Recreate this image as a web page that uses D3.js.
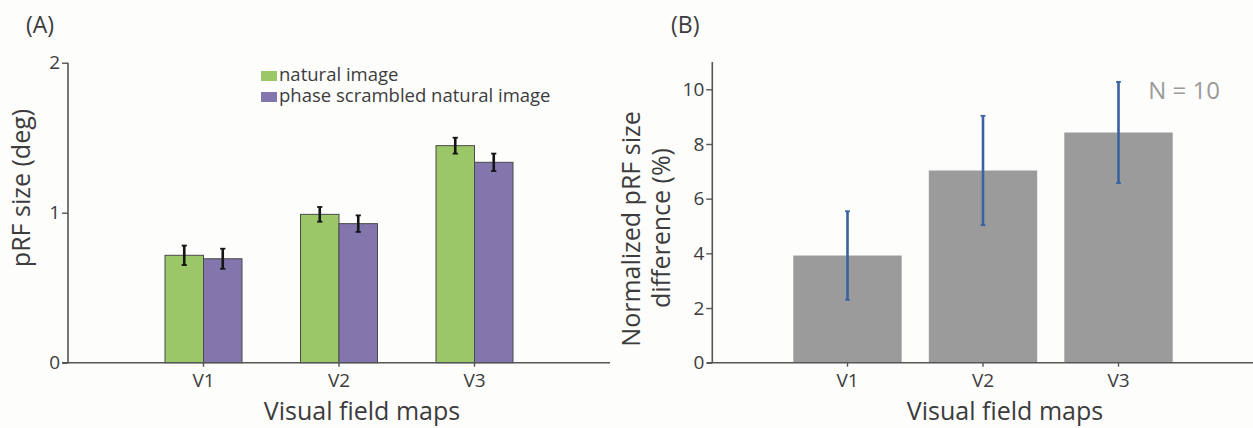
<!DOCTYPE html>
<html>
<head>
<meta charset="utf-8">
<script src="https://cdn.jsdelivr.net/npm/d3@7/dist/d3.min.js"></script>
<style>
  html, body { margin: 0; padding: 0; background: #fdfdfc; }
  svg { display: block; }
  text { font-family: "Open Sans", "Noto Sans", sans-serif; fill: #3c3c3c; }
</style>
</head>
<body>
<svg id="chart" width="1253" height="428"></svg>
<script>
// Visual field maps on the x axis of both panels
const categories = ["V1", "V2", "V3"];

// Panel A: pRF size (deg) per stimulus, with SEM
const seriesNames = ["natural image", "phase scrambled natural image"];
const naturalSize = [0.716, 0.989, 1.447];
const naturalErr = [0.065, 0.049, 0.053];
const scrambledSize = [0.693, 0.927, 1.336];
const scrambledErr = [0.067, 0.055, 0.058];
const sizeTicks = [0, 1, 2];

// Panel B: normalized pRF size difference (%), with SEM
const diffValues = [3.92, 7.03, 8.42];
const diffErr = [1.62, 2.0, 1.85];
const diffTicks = [0, 2, 4, 6, 8, 10];
const sampleLabel = "N = 10";

const svg = d3.select("#chart");
const axisColor = "#555";
const textColor = "#3c3c3c";

function styleAxis(g) {
  g.select(".domain").remove();
  g.selectAll(".tick line").attr("stroke", axisColor).attr("stroke-width", 1.4);
  g.selectAll(".tick text").attr("fill", textColor).style("font-size", "19px");
}

// ---------- Panel A ----------
{
  const x = d3.scaleBand().domain(categories).range([135.75, 542.25]).padding(0);
  const y = d3.scaleLinear().domain([0, 2]).range([362.7, 62.7]);
  const sub = d3.scaleBand().domain(seriesNames).range([-38.5, 38.5]);
  const colors = { "natural image": "#9bc769", "phase scrambled natural image": "#8276ad" };
  const rows = categories.map((c, i) => ({
    cat: c,
    bars: [
      { name: seriesNames[0], v: naturalSize[i], e: naturalErr[i] },
      { name: seriesNames[1], v: scrambledSize[i], e: scrambledErr[i] }
    ]
  }));

  const g = svg.append("g");

  const groups = g.selectAll(".grp").data(rows).join("g")
    .attr("transform", d => `translate(${x(d.cat) + x.bandwidth() / 2},0)`);

  groups.selectAll("rect").data(d => d.bars).join("rect")
    .attr("x", d => sub(d.name))
    .attr("width", sub.bandwidth())
    .attr("y", d => y(d.v))
    .attr("height", d => y(0) - y(d.v))
    .attr("fill", d => colors[d.name])
    .attr("stroke", "#4a4a4a")
    .attr("stroke-width", 1);

  // error bars
  const eb = groups.selectAll(".eb").data(d => d.bars).join("g")
    .attr("transform", d => `translate(${sub(d.name) + sub.bandwidth() / 2},0)`);
  eb.append("line")
    .attr("y1", d => y(d.v + d.e)).attr("y2", d => y(d.v - d.e))
    .attr("stroke", "#151515").attr("stroke-width", 2.6);
  eb.selectAll(".cap").data(d => [d.v + d.e, d.v - d.e]).join("line")
    .attr("x1", -2.6).attr("x2", 2.6)
    .attr("y1", d => y(d)).attr("y2", d => y(d))
    .attr("stroke", "#151515").attr("stroke-width", 1.8);

  // axes
  g.append("line").attr("x1", 62).attr("x2", 610).attr("y1", y(0)).attr("y2", y(0))
    .attr("stroke", axisColor).attr("stroke-width", 1.6);
  g.append("line").attr("x1", 68).attr("x2", 68).attr("y1", y(2)).attr("y2", y(0))
    .attr("stroke", axisColor).attr("stroke-width", 1.6);

  g.append("g").attr("transform", `translate(0,${y(0)})`)
    .call(d3.axisBottom(x).tickSize(4).tickPadding(7))
    .call(styleAxis);
  g.append("g").attr("transform", "translate(68,0)")
    .call(d3.axisLeft(y).tickValues(sizeTicks).tickFormat(d3.format("d")).tickSize(6).tickPadding(2))
    .call(styleAxis);

  // legend
  const leg = g.append("g");
  seriesNames.forEach((n, i) => {
    leg.append("rect").attr("x", 261).attr("y", 71 + i * 21).attr("width", 16).attr("height", 10)
      .attr("fill", colors[n]);
    leg.append("text").attr("x", 279).attr("y", 81 + i * 21)
      .style("font-size", "18.5px").attr("fill", textColor).text(n);
  });

  // titles
  g.append("text").attr("x", 362).attr("y", 420).attr("text-anchor", "middle")
    .style("font-size", "25px").text("Visual field maps");
  g.append("text").attr("transform", "translate(30,188) rotate(-90)").attr("text-anchor", "middle")
    .style("font-size", "25px").text("pRF size (deg)");
  g.append("text").attr("x", 26).attr("y", 33).style("font-size", "23px").text("(A)");
}

// ---------- Panel B ----------
{
  const x = d3.scaleBand().domain(categories).range([779.75, 1186.25]).paddingInner(0.2).paddingOuter(0.1);
  const y = d3.scaleLinear().domain([0, 11]).range([362.7, 61.96]);
  const rows = categories.map((c, i) => ({ cat: c, v: diffValues[i], e: diffErr[i] }));

  const g = svg.append("g");

  g.selectAll("rect").data(rows).join("rect")
    .attr("x", d => x(d.cat))
    .attr("width", x.bandwidth())
    .attr("y", d => y(d.v))
    .attr("height", d => y(0) - y(d.v))
    .attr("fill", "#9b9b9b");

  const eb = g.selectAll(".eb").data(rows).join("g")
    .attr("transform", d => `translate(${x(d.cat) + x.bandwidth() / 2},0)`);
  eb.append("line")
    .attr("y1", d => y(d.v + d.e)).attr("y2", d => y(d.v - d.e))
    .attr("stroke", "#3a62a3").attr("stroke-width", 2.6);
  eb.selectAll(".cap").data(d => [d.v + d.e, d.v - d.e]).join("line")
    .attr("x1", -2.4).attr("x2", 2.4)
    .attr("y1", d => y(d)).attr("y2", d => y(d))
    .attr("stroke", "#3a62a3").attr("stroke-width", 1.8);

  g.append("line").attr("x1", 707).attr("x2", 1253).attr("y1", y(0)).attr("y2", y(0))
    .attr("stroke", axisColor).attr("stroke-width", 1.6);
  g.append("line").attr("x1", 712.3).attr("x2", 712.3).attr("y1", y(11)).attr("y2", y(0))
    .attr("stroke", axisColor).attr("stroke-width", 1.6);

  g.append("g").attr("transform", `translate(0,${y(0)})`)
    .call(d3.axisBottom(x).tickSize(4).tickPadding(7))
    .call(styleAxis);
  g.append("g").attr("transform", "translate(712.3,0)")
    .call(d3.axisLeft(y).tickValues(diffTicks).tickFormat(d3.format("d")).tickSize(6).tickPadding(2))
    .call(styleAxis);

  g.append("text").attr("x", 1184).attr("y", 99).attr("text-anchor", "middle")
    .style("font-size", "24px").style("fill", "#9a9a9a").text(sampleLabel);

  g.append("text").attr("x", 1005).attr("y", 420).attr("text-anchor", "middle")
    .style("font-size", "25px").text("Visual field maps");
  g.append("text").attr("transform", "translate(640,229) rotate(-90)").attr("text-anchor", "middle")
    .style("font-size", "25px").text("Normalized pRF size");
  g.append("text").attr("transform", "translate(670,228) rotate(-90)").attr("text-anchor", "middle")
    .style("font-size", "25px").text("difference (%)");
  g.append("text").attr("x", 671).attr("y", 33).style("font-size", "23px").text("(B)");
}
</script>
</body>
</html>
